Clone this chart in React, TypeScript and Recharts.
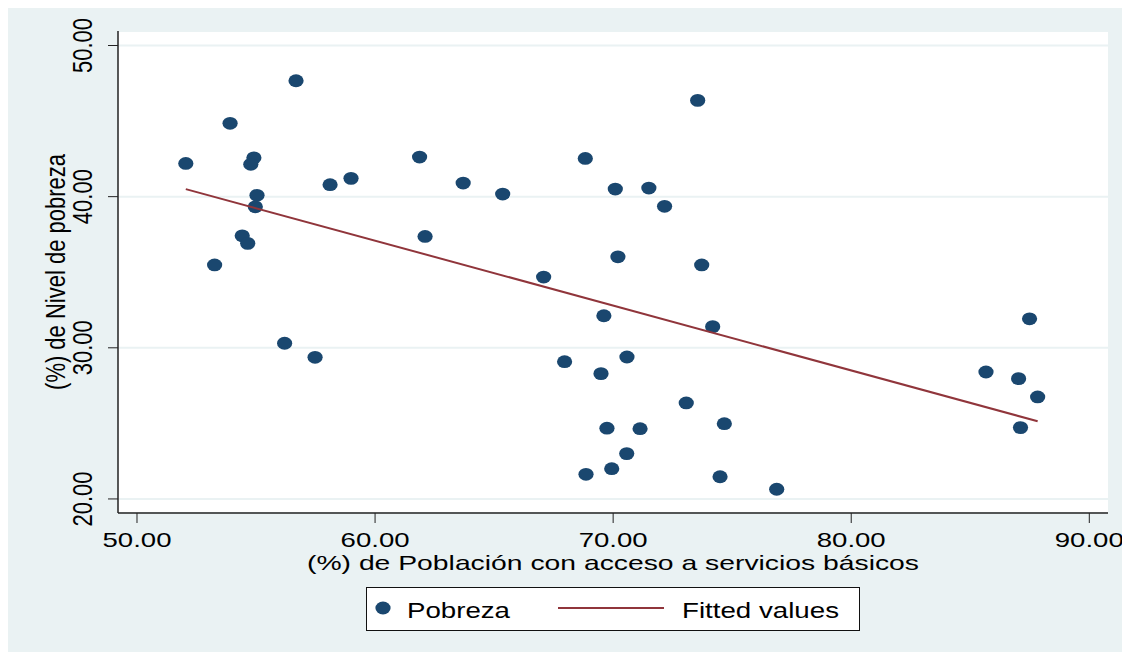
import React from 'react';
import { ScatterChart, Scatter, XAxis, YAxis, CartesianGrid, Label } from 'recharts';

// % de población con acceso a servicios básicos (x) y % de nivel de pobreza (y)
const accesoServicios = [
  52.05, 53.91, 56.68, 53.26, 54.91, 54.78, 55.04, 54.97, 54.42, 54.65,
  56.2, 57.48, 58.11, 58.99, 61.87, 62.1, 63.7, 65.36, 67.08, 67.96,
  68.83, 68.86, 69.49, 69.61, 69.74, 69.94, 70.09, 70.2, 70.57, 70.58,
  71.13, 71.5, 72.16, 73.07, 73.55, 73.72, 74.18, 74.49, 74.67, 76.87,
  85.66, 87.03, 87.49, 87.11, 87.83,
];
const nivelPobreza = [
  42.2, 44.85, 47.67, 35.48, 42.57, 42.14, 40.09, 39.33, 37.41, 36.91,
  30.3, 29.37, 40.79, 41.21, 42.62, 37.37, 40.9, 40.17, 34.68, 29.08,
  42.53, 21.63, 28.29, 32.12, 24.68, 22.0, 40.5, 36.02, 23.0, 29.39,
  24.65, 40.57, 39.36, 26.35, 46.37, 35.48, 31.4, 21.47, 24.98, 20.64,
  28.4, 27.96, 31.92, 24.72, 26.75,
];
const fittedX = [52.05, 87.83];
const fittedY = [40.5, 25.14];
const xTicks = [50, 60, 70, 80, 90];
const yTicks = [20, 30, 40, 50];

const NAVY = '#1a476f';
const MAROON = '#90353b';
const BG = '#eaf2f3';
const FONT = '"Liberation Sans", Arial, sans-serif';
const STRETCH = 1.24;

const puntos = accesoServicios.map((x, i) => ({ x, y: nivelPobreza[i] }));
const ajuste = fittedX.map((x, i) => ({ x, y: fittedY[i] }));

const Dot = (props: any) => (
  <ellipse cx={props.cx} cy={props.cy} rx={7.6} ry={6.4} fill={NAVY} />
);

const XTick = ({ x, y, payload }: any) => (
  <text x={x} y={y + 22} textAnchor="middle" fontSize={21} fontFamily={FONT} fill="#000"
    textLength={69} lengthAdjust="spacingAndGlyphs">
    {payload.value.toFixed(2)}
  </text>
);

const YTick = ({ x, y, payload }: any) => (
  <g transform={`translate(${x - 14},${y}) scale(${STRETCH},1)`}>
    <text transform="rotate(-90)" textAnchor="middle" fontSize={22} fontFamily={FONT} fill="#000">
      {payload.value.toFixed(2)}
    </text>
  </g>
);

export default function App() {
  return (
    <div style={{ position: 'relative', width: 1122, height: 644, background: BG }}>
      <ScatterChart width={1122} height={644} margin={{ top: 23, right: 22, left: 50, bottom: 79 }}>
        <CartesianGrid vertical={false} fill="#fff" stroke={BG} strokeWidth={2} />
        <XAxis type="number" dataKey="x" domain={[49.202, 90.785]} ticks={xTicks}
          allowDataOverflow height={60} tickSize={10} tick={(p: any) => <XTick {...p} />}
          axisLine={{ stroke: '#222', strokeWidth: 1.5 }} tickLine={{ stroke: '#222' }}>
          <Label content={({ viewBox }: any) => (
            <text x={viewBox.x + viewBox.width / 2} y={viewBox.y + 57} textAnchor="middle"
              fontSize={21} fontFamily={FONT} fill="#000" textLength={612} lengthAdjust="spacingAndGlyphs">
              (%) de Población con acceso a servicios básicos
            </text>
          )} />
        </XAxis>
        <YAxis type="number" dataKey="y" domain={[19.07, 50.96]} ticks={yTicks}
          allowDataOverflow width={60} tickSize={10} tick={(p: any) => <YTick {...p} />}
          axisLine={{ stroke: '#222', strokeWidth: 1.5 }} tickLine={{ stroke: '#222' }}>
          <Label content={({ viewBox }: any) => (
            <g transform={`translate(${viewBox.x + 7},${viewBox.y + viewBox.height / 2}) scale(${STRETCH},1)`}>
              <text transform="rotate(-90)" textAnchor="middle" fontSize={22} fontFamily={FONT} fill="#000">
                (%) de Nivel de pobreza
              </text>
            </g>
          )} />
        </YAxis>
        <Scatter name="Pobreza" data={puntos} shape={Dot} isAnimationActive={false} />
        <Scatter name="Fitted values" data={ajuste} line={{ stroke: MAROON, strokeWidth: 2 }}
          shape={() => <g />} isAnimationActive={false} />
      </ScatterChart>
      <div style={{
        position: 'absolute', left: 358, top: 579, width: 494, height: 44, boxSizing: 'border-box',
        border: '1.5px solid #111', background: '#fff',
      }}>
        <svg width={491} height={41} style={{ display: 'block' }}>
          <ellipse cx={16} cy={20} rx={7.6} ry={6.4} fill={NAVY} />
          <text x={40} y={30} fontSize={22} fontFamily={FONT} fill="#000" textLength={103}
            lengthAdjust="spacingAndGlyphs">Pobreza</text>
          <line x1={191} x2={297} y1={20} y2={20} stroke={MAROON} strokeWidth={2} />
          <text x={315} y={30} fontSize={22} fontFamily={FONT} fill="#000" textLength={157}
            lengthAdjust="spacingAndGlyphs">Fitted values</text>
        </svg>
      </div>
    </div>
  );
}
